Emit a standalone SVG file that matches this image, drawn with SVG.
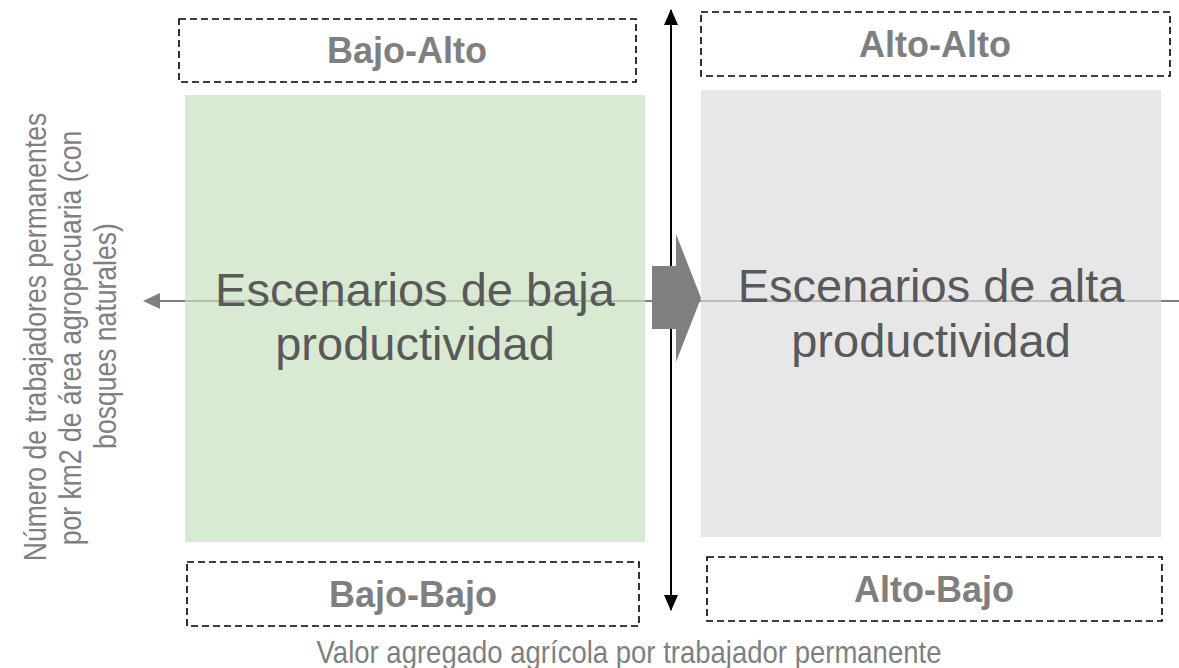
<svg xmlns="http://www.w3.org/2000/svg" width="1179" height="668" viewBox="0 0 1179 668">
<style>
.lbl{font-family:"Liberation Sans",Arial,sans-serif;font-weight:bold;font-size:36px;fill:#7f7f7f;text-anchor:middle}
.big{font-family:"Liberation Sans",Arial,sans-serif;font-size:47px;fill:#595959;text-anchor:middle}
.ax{font-family:"Liberation Sans",Arial,sans-serif;font-size:32px;fill:#7f7f7f;text-anchor:middle}
.dash{fill:none;stroke:#000;stroke-width:1.6;stroke-dasharray:7 4}
.hl{stroke:#7f7f7f;stroke-width:2}
</style>
<defs>
<marker id="bk" viewBox="0 0 16 14" refX="15" refY="7" markerWidth="16" markerHeight="14" markerUnits="userSpaceOnUse" orient="auto-start-reverse">
<path d="M0,0 L16,7 L0,14 z" fill="#000"/>
</marker>
</defs>
<rect width="1179" height="668" fill="#fff"/>
<g id="low-panel">
<rect x="185" y="95" width="460" height="447" fill="#d9ead3"/>
</g>
<g id="high-panel">
<rect x="701" y="90" width="460" height="447" fill="#e7e7e7"/>
</g>
<g id="connectors">
<line class="hl" x1="158" y1="301" x2="185" y2="301"/>
<line class="hl" x1="185" y1="301" x2="645" y2="301" stroke-opacity="0.4"/>
<line class="hl" x1="645" y1="301" x2="701" y2="301"/>
<line class="hl" x1="701" y1="301" x2="1161" y2="301" stroke-opacity="0.4"/>
<line class="hl" x1="1161" y1="301" x2="1179" y2="301"/>
<path d="M143,301 L160,293 L160,309 z" fill="#7f7f7f"/>
<line x1="671" y1="10" x2="671" y2="610" stroke="#000" stroke-width="2" marker-start="url(#bk)" marker-end="url(#bk)"/>
<path d="M652,266 L676,266 L676,234 L701,298 L676,362 L676,329 L652,329 z" fill="#7f7f7f"/>
</g>
<g id="low-text">
<text class="big" x="415" y="306">Escenarios de baja</text>
<text class="big" x="415" y="360">productividad</text>
</g>
<g id="high-text">
<text class="big" x="931" y="302">Escenarios de alta</text>
<text class="big" x="931" y="357">productividad</text>
</g>
<g id="bajo-alto">
<rect class="dash" x="179" y="19" width="457" height="63"/>
<text class="lbl" x="407" y="63">Bajo-Alto</text>
</g>
<g id="alto-alto">
<rect class="dash" x="701" y="12" width="469" height="64"/>
<text class="lbl" x="935" y="57">Alto-Alto</text>
</g>
<g id="bajo-bajo">
<rect class="dash" x="187" y="562" width="452" height="64"/>
<text class="lbl" x="413" y="607">Bajo-Bajo</text>
</g>
<g id="alto-bajo">
<rect class="dash" x="707" y="557" width="455" height="64"/>
<text class="lbl" x="934" y="602">Alto-Bajo</text>
</g>
<g id="x-label">
<text class="ax" transform="translate(629,663) scale(0.86,1)">Valor agregado agrícola por trabajador permanente</text>
</g>
<g id="y-label">
<text class="ax" transform="translate(46,337) rotate(-90) scale(0.83,1)">Número de trabajadores permanentes</text>
<text class="ax" transform="translate(81,338) rotate(-90) scale(0.83,1)">por km2 de área agropecuaria (con</text>
<text class="ax" transform="translate(116,336) rotate(-90) scale(0.83,1)">bosques naturales)</text>
</g>
</svg>
